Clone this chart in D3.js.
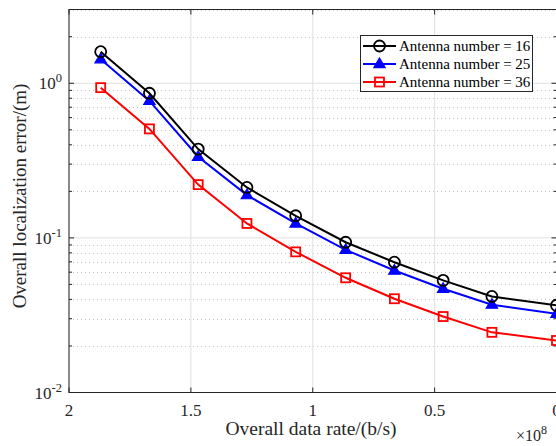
<!DOCTYPE html>
<html>
<head>
<meta charset="utf-8">
<script src="https://cdn.jsdelivr.net/npm/d3@7"></script>
<style>
body { margin: 0; background: #fff; }
svg { display: block; font-family: "Liberation Serif", "DejaVu Serif", serif; }
</style>
</head>
<body>
<svg width="556" height="446"></svg>
<script>
// data rate in units of 1e8 b/s
var rates = [1.87, 1.67, 1.47, 1.27, 1.07, 0.865, 0.665, 0.465, 0.265, 0.0];
var err16 = [1.60, 0.862, 0.375, 0.212, 0.139, 0.0937, 0.0696, 0.0531, 0.0418, 0.0366];
var err25 = [1.43, 0.769, 0.335, 0.189, 0.124, 0.0837, 0.0615, 0.0469, 0.0370, 0.0323];
var err36 = [0.937, 0.507, 0.221, 0.124, 0.0812, 0.0552, 0.0404, 0.0310, 0.0245, 0.0217];
var seriesNames = ["Antenna number = 16", "Antenna number = 25", "Antenna number = 36"];
var xTicks = [2, 1.5, 1, 0.5, 0];
var yTicks = [0.01, 0.1, 1];

var series = [
  {name: seriesNames[0], vals: err16, color: "#000000", marker: "circle"},
  {name: seriesNames[1], vals: err25, color: "#0000ff", marker: "triangle"},
  {name: seriesNames[2], vals: err36, color: "#ff0000", marker: "square"}
];

var svg = d3.select("svg");
var L = 69, R = 556.5, T = 9.5, B = 392.5;

var x = d3.scaleLinear().domain([2, 0]).range([L, R]);
var y = d3.scaleLog().domain([0.01, 3]).range([B, T]);

var grid = svg.append("g");
// minor grid (dotted)
var minorVals = [];
[0.01, 0.1, 1].forEach(function(d){
  for (var k = 2; k <= 9; k++) { if (d*k <= 3) minorVals.push(d*k); }
});
grid.selectAll("line.minor").data(minorVals).enter().append("line")
  .attr("x1", L).attr("x2", R)
  .attr("y1", d => Math.round(y(d)) + 0.5).attr("y2", d => Math.round(y(d)) + 0.5)
  .attr("stroke", "#c8c8c8").attr("stroke-width", 1).attr("stroke-dasharray", "1,3");
// major grid
grid.selectAll("line.ymaj").data(yTicks).enter().append("line")
  .attr("x1", L).attr("x2", R)
  .attr("y1", d => y(d)).attr("y2", d => y(d))
  .attr("stroke", "#e0e0e0").attr("stroke-width", 1);
grid.selectAll("line.xmaj").data(xTicks).enter().append("line")
  .attr("y1", T).attr("y2", B)
  .attr("x1", d => x(d)).attr("x2", d => x(d))
  .attr("stroke", "#e0e0e0").attr("stroke-width", 1);

// axes box
var axC = "#262626";
svg.append("rect").attr("x", L).attr("y", T).attr("width", R - L).attr("height", B - T)
  .attr("fill", "none").attr("stroke", axC).attr("stroke-width", 1);

// inward ticks
var tk = svg.append("g").attr("stroke", axC).attr("stroke-width", 1);
xTicks.forEach(function(d){
  tk.append("line").attr("x1", x(d)).attr("x2", x(d)).attr("y1", B).attr("y2", B - 5);
  tk.append("line").attr("x1", x(d)).attr("x2", x(d)).attr("y1", T).attr("y2", T + 5);
});
yTicks.concat(minorVals).forEach(function(d){
  var len = yTicks.indexOf(d) >= 0 ? 5 : 3;
  tk.append("line").attr("x1", L).attr("x2", L + len).attr("y1", y(d)).attr("y2", y(d));
  tk.append("line").attr("x1", R - len).attr("x2", R).attr("y1", y(d)).attr("y2", y(d));
});

// tick labels
svg.append("g").selectAll("text").data(xTicks).enter().append("text")
  .attr("x", d => x(d)).attr("y", B + 23)
  .attr("text-anchor", "middle").attr("font-size", 17).attr("fill", axC)
  .text(d => d3.format("~g")(d));

var yl = svg.append("g").selectAll("text").data(yTicks).enter().append("text")
  .attr("x", L - 7).attr("y", d => y(d) + 6)
  .attr("text-anchor", "end").attr("font-size", 17).attr("fill", axC);
yl.append("tspan").text("10");
yl.append("tspan").attr("dy", -7).attr("font-size", 12.5).text(d => Math.round(Math.log10(d)));

svg.append("text").attr("x", 516).attr("y", 441).attr("font-size", 16).attr("fill", axC)
  .text("\u00d710").append("tspan").attr("dy", -7).attr("font-size", 12).text("8");

// axis titles
svg.append("text").attr("x", 311).attr("y", 435)
  .attr("text-anchor", "middle").attr("font-size", 19.5).attr("fill", axC)
  .text("Overall data rate/(b/s)");
svg.append("text").attr("transform", "translate(26,196) rotate(-90)")
  .attr("text-anchor", "middle").attr("font-size", 19).attr("fill", axC)
  .text("Overall localization error/(m)");

// lines and markers
var line = d3.line().x((d, i) => x(rates[i])).y(d => y(d));

function drawMarker(g, type, cx, cy, color) {
  if (type == "circle") {
    g.append("circle").attr("cx", cx).attr("cy", cy).attr("r", 5.5)
      .attr("fill", "none").attr("stroke", color).attr("stroke-width", 1.8);
  } else if (type == "triangle") {
    var s = 6;
    g.append("path").attr("d", "M" + cx + "," + (cy - s) + "L" + (cx + s * 0.95) + "," + (cy + s * 0.6) + "L" + (cx - s * 0.95) + "," + (cy + s * 0.6) + "Z")
      .attr("fill", color).attr("stroke", color).attr("stroke-width", 1.2);
  } else {
    g.append("rect").attr("x", cx - 4.5).attr("y", cy - 4.5).attr("width", 9).attr("height", 9)
      .attr("fill", "none").attr("stroke", color).attr("stroke-width", 1.8);
  }
}

var plot = svg.append("g");
series.slice().reverse().forEach(function(s){
  plot.append("path").datum(s.vals).attr("d", line)
    .attr("fill", "none").attr("stroke", s.color).attr("stroke-width", 2);
  s.vals.forEach(function(v, i){ drawMarker(plot, s.marker, x(rates[i]), y(v), s.color); });
});

// legend
var lg = svg.append("g");
lg.append("rect").attr("x", 360.5).attr("y", 35.5).attr("width", 172).attr("height", 56)
  .attr("fill", "#fff").attr("stroke", axC).attr("stroke-width", 1);
series.forEach(function(s, i){
  var yy = 46 + i * 18;
  lg.append("line").attr("x1", 363).attr("x2", 396).attr("y1", yy).attr("y2", yy)
    .attr("stroke", s.color).attr("stroke-width", 2);
  drawMarker(lg, s.marker, 379.5, yy, s.color);
  lg.append("text").attr("x", 399).attr("y", yy + 5).attr("font-size", 15).attr("fill", "#000")
    .text(s.name);
});
</script>
</body>
</html>
